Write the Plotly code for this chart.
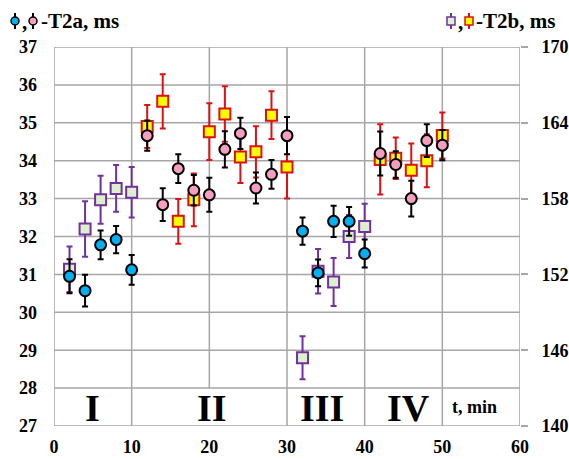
import plotly.graph_objects as go

# ---------------- data ----------------
# T2a (left axis, ms)
t_blue_1 = [2, 4, 6, 8, 10]
blue_1 = [30.95, 30.57, 31.78, 31.92, 31.12]
blue_1_err = [0.45, 0.42, 0.38, 0.36, 0.39]
t_blue_3 = [32, 34, 36, 38, 40]
blue_3 = [32.14, 31.04, 32.40, 32.40, 31.55]
blue_3_err = [0.36, 0.35, 0.41, 0.38, 0.37]

t_pink_2 = [12, 14, 16, 18, 20, 22, 24, 26, 28, 30]
pink_2 = [34.66, 32.84, 33.79, 33.22, 33.10, 34.30, 34.72, 33.28, 33.64, 34.66]
pink_2_err = [0.40, 0.43, 0.38, 0.40, 0.45, 0.48, 0.41, 0.41, 0.38, 0.49]
t_pink_4 = [42, 44, 46, 48, 50]
pink_4 = [34.19, 33.90, 33.00, 34.53, 34.41]
pink_4_err = [0.58, 0.35, 0.47, 0.43, 0.40]

# T2b (right axis, ms)
t_green_1 = [2, 4, 6, 8, 10]
green_1 = [152.4, 155.6, 157.9, 158.8, 158.5]
green_1_err = [1.8, 2.2, 1.9, 1.85, 2.0]
t_green_3 = [32, 34, 36, 38, 40]
green_3 = [145.4, 152.25, 151.4, 155.0, 155.8]
green_3_err = [1.7, 1.77, 1.9, 1.71, 1.8]

t_yellow_2 = [12, 14, 16, 18, 20, 22, 24, 26, 28, 30]
yellow_2 = [163.7, 165.7, 156.2, 157.9, 163.3, 164.7, 161.3, 161.7, 164.6, 160.5]
yellow_2_err = [1.7, 2.15, 1.77, 2.08, 2.24, 2.2, 2.06, 2.02, 1.89, 2.5]
t_yellow_4 = [42, 44, 46, 48, 50]
yellow_4 = [161.1, 161.2, 160.25, 161.0, 163.0]
yellow_4_err = [2.78, 1.64, 2.11, 2.1, 1.82]

left_ticks = [27, 28, 29, 30, 31, 32, 33, 34, 35, 36, 37]
right_ticks = [140, 146, 152, 158, 164, 170]
x_ticks = [0, 10, 20, 30, 40, 50, 60]
stage_labels = ["I", "II", "III", "IV"]
stage_x = [5, 20.3, 34.5, 45.6]

# ---------------- styling ----------------
SERIF = "Liberation Serif"
BLUE = "#00b0f0"
PINK = "#f59ec0"
GREEN = "#dcf0cc"
PURPLE = "#7030a0"
YELLOW = "#ffff00"
RED = "#dd1111"
GRID = "#a6a6a6"

fig = go.Figure()

def add_series(x, y, err, fill, edge, barcol, symbol, axis):
    fig.add_trace(go.Scatter(
        x=x, y=y, mode="markers", yaxis=axis, showlegend=False,
        marker=dict(symbol=symbol, size=11, color=fill, line=dict(color=edge, width=2)),
        error_y=dict(type="data", array=err, visible=True, color=barcol, thickness=2, width=3),
        cliponaxis=False, hoverinfo="skip",
    ))

# T2b on base axis (right side), drawn first
add_series(t_green_1 + t_green_3, green_1 + green_3, green_1_err + green_3_err,
           GREEN, PURPLE, PURPLE, "square", "y")
add_series(t_yellow_2 + t_yellow_4, yellow_2 + yellow_4, yellow_2_err + yellow_4_err,
           YELLOW, RED, RED, "square", "y")
# T2a on overlay axis (left side), drawn on top
add_series(t_blue_1 + t_blue_3, blue_1 + blue_3, blue_1_err + blue_3_err,
           BLUE, "black", "black", "circle", "y2")
add_series(t_pink_2 + t_pink_4, pink_2 + pink_4, pink_2_err + pink_4_err,
           PINK, "black", "black", "circle", "y2")

tickfont = dict(family=SERIF, size=18, color="black", weight="bold")

fig.update_layout(
    width=569, height=459,
    margin=dict(l=54, r=49, t=47, b=33, autoexpand=False),
    font=dict(family=SERIF, color="black"),
    paper_bgcolor="white", plot_bgcolor="white",
    xaxis=dict(range=[0, 60], tickvals=x_ticks, showgrid=False, zeroline=False,
               showline=False, ticks="", tickfont=tickfont, ticklabelstandoff=8,
               automargin=False),
    yaxis=dict(range=[140, 170], tickvals=right_ticks, side="right", showgrid=False,
               zeroline=False, showline=False, ticks="outside", ticklen=7,
               tickcolor=GRID, tickwidth=1.5, tickfont=tickfont, ticklabelstandoff=10,
               automargin=False),
    yaxis2=dict(range=[27, 37], tickvals=left_ticks, side="left", overlaying="y",
                showgrid=False, zeroline=False, showline=False, ticks="",
                tickfont=tickfont, ticklabelstandoff=16, automargin=False),
)

shapes = []
# horizontal grid lines
for v in range(28, 37):
    shapes.append(dict(type="line", xref="x", yref="y2", x0=0, x1=60, y0=v, y1=v,
                       line=dict(color=GRID, width=1.5), layer="below"))
# vertical grid lines
for v in [10, 30, 40, 50]:
    shapes.append(dict(type="line", xref="x", yref="y2", x0=v, x1=v, y0=27, y1=37,
                       line=dict(color=GRID, width=1.5), layer="below"))
shapes.append(dict(type="line", xref="x", yref="y2", x0=20, x1=20, y0=28, y1=37,
                   line=dict(color=GRID, width=1.5), layer="below"))
# frame
shapes.append(dict(type="rect", xref="x", yref="y2", x0=0, x1=60, y0=27, y1=37,
                   line=dict(color=GRID, width=1.5), layer="below"))

# legend glyphs (pixel -> paper)
PL, PR, PT, PB = 54, 520, 47, 426
def px(xp):
    return (xp - PL) / (PR - PL)
def py(yp):
    return (PB - yp) / (PB - PT)

def glyph(cx, cy, fill, edge, kind):
    shapes.append(dict(type="line", xref="paper", yref="paper",
                       x0=px(cx), x1=px(cx), y0=py(cy - 8), y1=py(cy + 8),
                       line=dict(color=edge, width=2)))
    r = 4
    shapes.append(dict(type="circle" if kind == "c" else "rect", xref="paper", yref="paper",
                       x0=px(cx - r), x1=px(cx + r), y0=py(cy + r), y1=py(cy - r),
                       fillcolor=fill, line=dict(color=edge, width=1.5)))

glyph(15, 21, BLUE, "black", "c")
glyph(33, 21, PINK, "black", "c")
glyph(451, 21, GREEN, PURPLE, "s")
glyph(469, 21, YELLOW, RED, "s")

leg_font = dict(family=SERIF, size=21, weight="bold", color="black")
lab_font = dict(family=SERIF, size=18, weight="bold", color="black")
annotations = [
    dict(xref="paper", yref="paper", x=px(20), y=py(22), text=",", showarrow=False,
         xanchor="left", yanchor="middle", font=leg_font),
    dict(xref="paper", yref="paper", x=px(39), y=py(21), text="-T2a, ms", showarrow=False,
         xanchor="left", yanchor="middle", font=leg_font),
    dict(xref="paper", yref="paper", x=px(456), y=py(22), text=",", showarrow=False,
         xanchor="left", yanchor="middle", font=leg_font),
    dict(xref="paper", yref="paper", x=px(474), y=py(21), text="-T2b, ms", showarrow=False,
         xanchor="left", yanchor="middle", font=leg_font),
    dict(xref="x", yref="y2", x=54.2, y=27.5, text="t, min", showarrow=False,
         xanchor="center", yanchor="middle", font=lab_font),
]
for lab, xv in zip(stage_labels, stage_x):
    annotations.append(dict(xref="x", yref="y2", x=xv, y=27.48, text=lab, showarrow=False,
                            xanchor="center", yanchor="middle",
                            font=dict(family=SERIF, size=38, weight="bold", color="black")))

fig.update_layout(shapes=shapes, annotations=annotations)
fig.write_html("out.html", config={"displayModeBar": False},
               post_script="document.body.style.margin='0px';document.body.style.padding='0px';")
